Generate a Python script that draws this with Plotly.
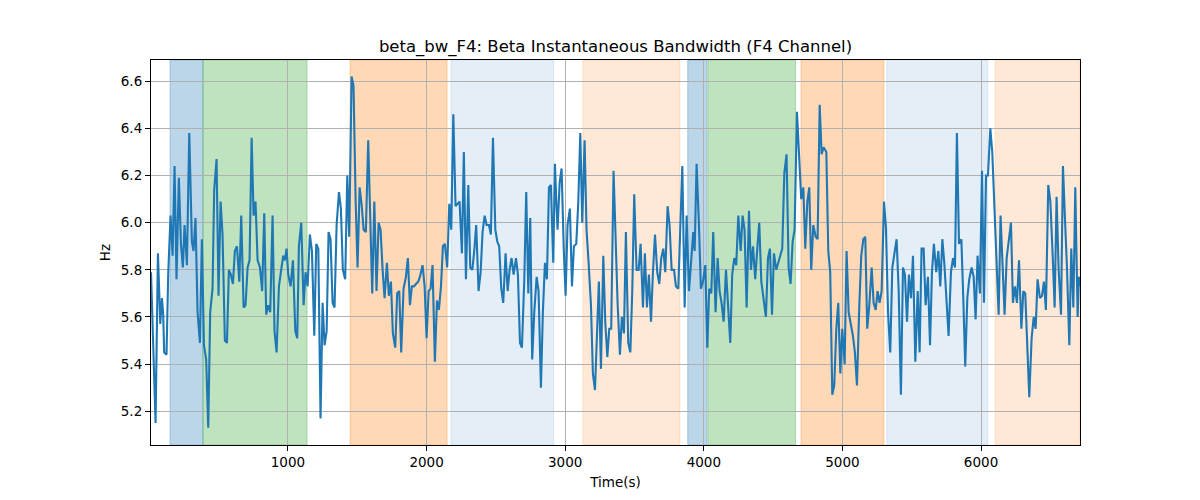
import plotly.graph_objects as go

# ---- data ----
time_s = [
    12, 45, 62, 79, 91, 100, 107, 124, 136, 153, 168, 182, 196, 213, 228, 242, 254, 271, 288, 307,
    319, 333, 348, 365, 379, 394, 410, 425, 439, 456, 468, 485, 499, 514, 528, 545, 560, 574, 588, 603,
    617, 632, 649, 663, 680, 694, 709, 723, 738, 752, 766, 781, 798, 814, 829, 843, 858, 872, 889, 903,
    918, 935, 949, 966, 978,
    990, 1002, 1019, 1036, 1053, 1067, 1079, 1096, 1113, 1127, 1142, 1158, 1173, 1190, 1204, 1219, 1235,
    1250, 1264, 1279, 1293, 1307, 1322, 1336, 1351, 1368, 1382, 1396, 1413, 1428, 1442, 1459, 1473, 1488,
    1502, 1517, 1531, 1546, 1562, 1579, 1594, 1608, 1623, 1639, 1654, 1668, 1683, 1697, 1714, 1728, 1743,
    1757, 1774, 1788, 1803, 1817, 1834, 1851, 1865, 1880, 1894, 1909, 1923, 1940, 1952,
    1971, 1986, 2000, 2015, 2029, 2043, 2060, 2075, 2089, 2104, 2118, 2132, 2149, 2164, 2178, 2193, 2209,
    2224, 2238, 2255, 2269, 2284, 2301, 2315, 2330, 2344, 2358, 2375, 2390, 2404, 2419, 2433, 2450, 2464,
    2479, 2496, 2510, 2524, 2539, 2553, 2570, 2585, 2599, 2613, 2628, 2645, 2659, 2674, 2688, 2705, 2719,
    2734, 2748, 2762, 2777, 2794, 2808, 2825, 2839, 2854, 2868, 2883, 2897, 2914, 2926,
    2936, 2945, 2960, 2974, 2989, 3003, 3017, 3034, 3049, 3063, 3080, 3094, 3109, 3123, 3140, 3154, 3169,
    3186, 3200, 3215, 3229, 3243, 3258, 3275, 3289, 3304, 3318, 3332, 3349, 3364, 3378, 3395, 3409, 3424,
    3438, 3455, 3470, 3484, 3498, 3515, 3530, 3544, 3561, 3575, 3590, 3604, 3619, 3633, 3648, 3664, 3679,
    3693, 3708, 3722, 3739, 3753, 3768, 3785, 3799, 3816, 3830, 3845, 3862, 3876, 3893,
    3914, 3924, 3934, 3948, 3965, 3979, 3994, 4011, 4025, 4039, 4054, 4068, 4085, 4100, 4114, 4128, 4143,
    4160, 4174, 4191, 4205, 4220, 4234, 4249, 4266, 4280, 4294, 4309, 4326, 4340, 4355, 4371, 4386, 4400,
    4415, 4432, 4448, 4463, 4477, 4492, 4506, 4523, 4537, 4552, 4566, 4581, 4597, 4612, 4626, 4641, 4655,
    4672, 4686, 4703, 4718, 4732, 4747, 4761, 4775, 4790, 4807, 4821, 4836, 4850, 4864, 4874,
    4884, 4898, 4912, 4927, 4941, 4956, 4970, 4985, 4999, 5016, 5030, 5045, 5062, 5076, 5090, 5105, 5122,
    5136, 5151, 5165, 5179, 5194, 5211, 5225, 5240, 5254, 5268, 5283, 5300, 5314, 5329, 5345, 5360, 5374,
    5391, 5406, 5422, 5437, 5451, 5466, 5480, 5495, 5509, 5526, 5543, 5557, 5571, 5586, 5600, 5617, 5632,
    5646, 5660, 5677, 5692, 5706, 5721, 5735, 5752, 5766, 5783, 5798, 5812, 5826, 5841,
    5858, 5872, 5886, 5901, 5915, 5932, 5947, 5961, 5975, 5992, 6007, 6021, 6036, 6050, 6067, 6081, 6096,
    6113, 6127, 6141, 6156, 6170, 6185, 6202, 6216, 6230, 6245, 6259, 6274, 6291, 6305, 6319, 6334, 6348,
    6365, 6380, 6394, 6408, 6425, 6440, 6454, 6468, 6485, 6500, 6517, 6531, 6545, 6560, 6577, 6591, 6606,
    6620, 6637, 6651, 6666, 6680, 6697, 6706, 6714,
]

beta_bw_hz = [
    5.79, 5.15, 5.87, 5.57, 5.68, 5.61, 5.45, 5.44, 5.78, 6.03, 5.86, 6.24, 5.76, 6.19, 5.91, 5.81, 5.99, 5.82, 6.38, 5.92,
    5.88, 6.02, 5.62, 5.49, 5.93, 5.48, 5.42, 5.13, 5.62, 5.72, 6.14, 6.27, 5.69, 6.09, 5.95, 5.50, 5.49, 5.80, 5.78, 5.74,
    5.88, 5.90, 5.75, 6.03, 5.64, 5.65, 5.81, 5.84, 6.36, 6.03, 6.09, 5.84, 5.81, 5.71, 6.04, 5.61, 5.65, 5.62, 6.03, 5.54,
    5.45, 5.73, 5.79, 5.86, 5.84,
    5.89, 5.78, 5.73, 5.84, 5.54, 5.51, 5.90, 6.00, 5.65, 5.79, 5.73, 5.95, 5.88, 5.52, 5.91, 5.89, 5.17,
    5.66, 5.48, 5.54, 5.96, 5.93, 5.66, 5.64, 5.99, 6.13, 6.06, 5.80, 5.76, 6.20, 5.94, 6.62, 6.58, 6.10,
    5.81, 6.15, 6.08, 5.97, 5.96, 6.35, 6.05, 5.70, 6.09, 5.71, 6.00, 5.97, 5.80, 5.68, 5.83, 5.69, 5.75,
    5.53, 5.47, 5.70, 5.71, 5.45, 5.72, 5.77, 5.85, 5.65, 5.73, 5.73, 5.74, 5.75, 5.77,
    5.82, 5.73, 5.51, 5.71, 5.72, 5.82, 5.41, 5.67, 5.63, 5.73, 5.90, 5.91, 5.81, 6.08, 5.97, 6.46, 6.07,
    6.08, 6.09, 5.87, 6.30, 5.76, 6.16, 5.81, 5.80, 5.88, 5.99, 5.71, 5.79, 5.96, 6.03, 5.99, 5.99, 5.95,
    6.36, 5.97, 5.92, 5.90, 5.72, 5.66, 5.87, 5.71, 5.80, 5.85, 5.78, 5.85, 5.78, 5.49, 5.47, 5.76, 6.13,
    5.70, 6.02, 5.42, 5.62, 5.77, 5.71, 5.30, 5.62, 5.83, 5.76, 6.15, 6.16, 5.83, 6.25,
    6.09, 5.97, 6.17, 6.23, 5.90, 5.69, 5.99, 6.06, 5.73, 5.90, 5.91, 6.08, 6.38, 6.00, 6.35, 5.97, 5.83,
    5.65, 5.36, 5.29, 5.52, 5.75, 5.38, 5.86, 5.58, 5.43, 5.55, 5.55, 6.22, 5.89, 5.66, 5.44, 5.60, 5.53,
    5.96, 5.49, 5.45, 5.71, 6.12, 5.80, 5.80, 5.91, 5.64, 5.87, 5.64, 5.78, 5.58, 5.79, 5.95, 5.79, 5.74,
    5.85, 5.89, 5.79, 6.07, 5.99, 5.80, 5.80, 5.73, 5.72, 5.96, 6.24, 5.64, 6.03, 5.71,
    5.91, 5.96, 5.88, 6.25, 5.99, 5.72, 5.75, 5.82, 5.47, 5.72, 5.70, 5.96, 5.62, 5.85, 5.71, 5.66, 5.58,
    5.80, 5.66, 5.49, 5.78, 5.85, 5.82, 6.03, 5.88, 6.03, 5.97, 5.64, 6.05, 5.80, 5.90, 5.76, 5.89, 6.00,
    5.75, 5.67, 5.60, 5.85, 5.89, 5.61, 5.87, 5.80, 5.83, 5.86, 5.89, 6.21, 6.29, 5.81, 5.74, 5.92, 5.97,
    6.47, 6.31, 6.10, 6.15, 5.89, 6.09, 6.15, 5.80, 5.99, 5.94, 5.93, 6.50, 6.29, 6.32, 6.31,
    6.30, 5.88, 5.79, 5.27, 5.31, 5.55, 5.66, 5.36, 5.55, 5.40, 5.88, 5.62, 5.57, 5.52, 5.45, 5.31, 5.65,
    5.86, 5.93, 5.94, 5.55, 5.65, 5.81, 5.66, 5.63, 5.71, 5.66, 5.71, 6.09, 5.98, 5.62, 5.45, 5.81, 5.87,
    5.93, 5.71, 5.27, 5.81, 5.78, 5.58, 5.78, 5.68, 5.86, 5.41, 5.71, 5.45, 5.89, 5.89, 5.65, 5.77, 5.48,
    5.79, 5.91, 5.79, 5.88, 5.73, 5.93, 5.83, 5.64, 5.52, 5.79, 5.85, 5.81, 6.38, 5.91,
    5.93, 5.68, 5.39, 5.68, 5.76, 5.81, 5.77, 5.59, 5.86, 5.70, 6.22, 5.66, 6.20, 6.20, 6.40, 6.30, 6.08,
    5.88, 5.61, 6.03, 5.79, 5.61, 5.85, 5.92, 6.00, 5.66, 5.73, 5.66, 5.84, 5.55, 5.71, 5.70, 5.46, 5.26,
    5.51, 5.60, 5.55, 5.76, 5.68, 5.69, 5.75, 5.63, 6.16, 6.09, 5.86, 5.64, 6.11, 5.80, 5.61, 6.24, 6.01,
    5.81, 5.48, 5.89, 5.64, 6.15, 5.60, 5.77, 5.73,
]

# shaded intervals: start, end, colour name, opacity
span_start = [149, 387, 1448, 2176, 3127, 3884, 4030, 4701, 5320, 6101]
span_end = [387, 1138, 2148, 2917, 3828, 4023, 4662, 5300, 6049, 6714]
span_color = ["blue", "green", "orange", "blue", "orange", "blue", "green", "orange", "blue", "orange"]
span_alpha = [0.3, 0.3, 0.3, 0.12, 0.17, 0.3, 0.3, 0.3, 0.12, 0.17]

x_ticks = [1000, 2000, 3000, 4000, 5000, 6000]
y_ticks = [5.2, 5.4, 5.6, 5.8, 6.0, 6.2, 6.4, 6.6]

rgb = {"blue": (31, 119, 180), "green": (44, 160, 44), "orange": (255, 127, 14)}

fig = go.Figure()
fig.add_trace(go.Scatter(x=time_s, y=beta_bw_hz, mode="lines",
                         line=dict(color="#1f77b4", width=2.1), showlegend=False))

for s, e, c, a in zip(span_start, span_end, span_color, span_alpha):
    r, g, b = rgb[c]
    fig.add_shape(type="rect", xref="x", yref="paper", x0=s, x1=e, y0=0, y1=1,
                  fillcolor=f"rgba({r},{g},{b},{a})",
                  line=dict(color=f"rgba({r},{g},{b},{a})", width=1), layer="below")

font = "DejaVu Sans, Arial, sans-serif"
# the page body has an 8px margin, so the figure is drawn offset by (8, 8)
fig.update_layout(
    width=1200, height=500,
    margin=dict(l=143, r=128, t=52, b=63),
    paper_bgcolor="white", plot_bgcolor="white",
    font=dict(family=font, size=14, color="black"),
    title=dict(text="beta_bw_F4: Beta Instantaneous Bandwidth (F4 Channel)",
               x=0.5, xref="paper", xanchor="center",
               y=1 - 38 / 500, yanchor="middle", yref="container",
               font=dict(size=16.5, family=font, color="black")),
)
fig.update_xaxes(range=[12, 6714], tickvals=x_ticks, ticktext=[str(v) for v in x_ticks],
                 showgrid=True, gridcolor="#b0b0b0", gridwidth=1.1,
                 showline=True, linecolor="black", linewidth=1.1, mirror=True,
                 ticks="outside", ticklen=5, tickcolor="black", tickwidth=1.1,
                 tickfont=dict(size=13.5), zeroline=False,
                 title=dict(text="Time(s)", font=dict(size=13.5), standoff=8))
fig.update_yaxes(range=[5.057, 6.690], tickvals=y_ticks, ticktext=[f"{v:.1f}" for v in y_ticks],
                 showgrid=True, gridcolor="#b0b0b0", gridwidth=1.1,
                 showline=True, linecolor="black", linewidth=1.1, mirror=True,
                 ticks="outside", ticklen=5, tickcolor="black", tickwidth=1.1,
                 tickfont=dict(size=13.5), zeroline=False,
                 title=dict(text="Hz", font=dict(size=13.5), standoff=7))

fig.write_html("out.html")
